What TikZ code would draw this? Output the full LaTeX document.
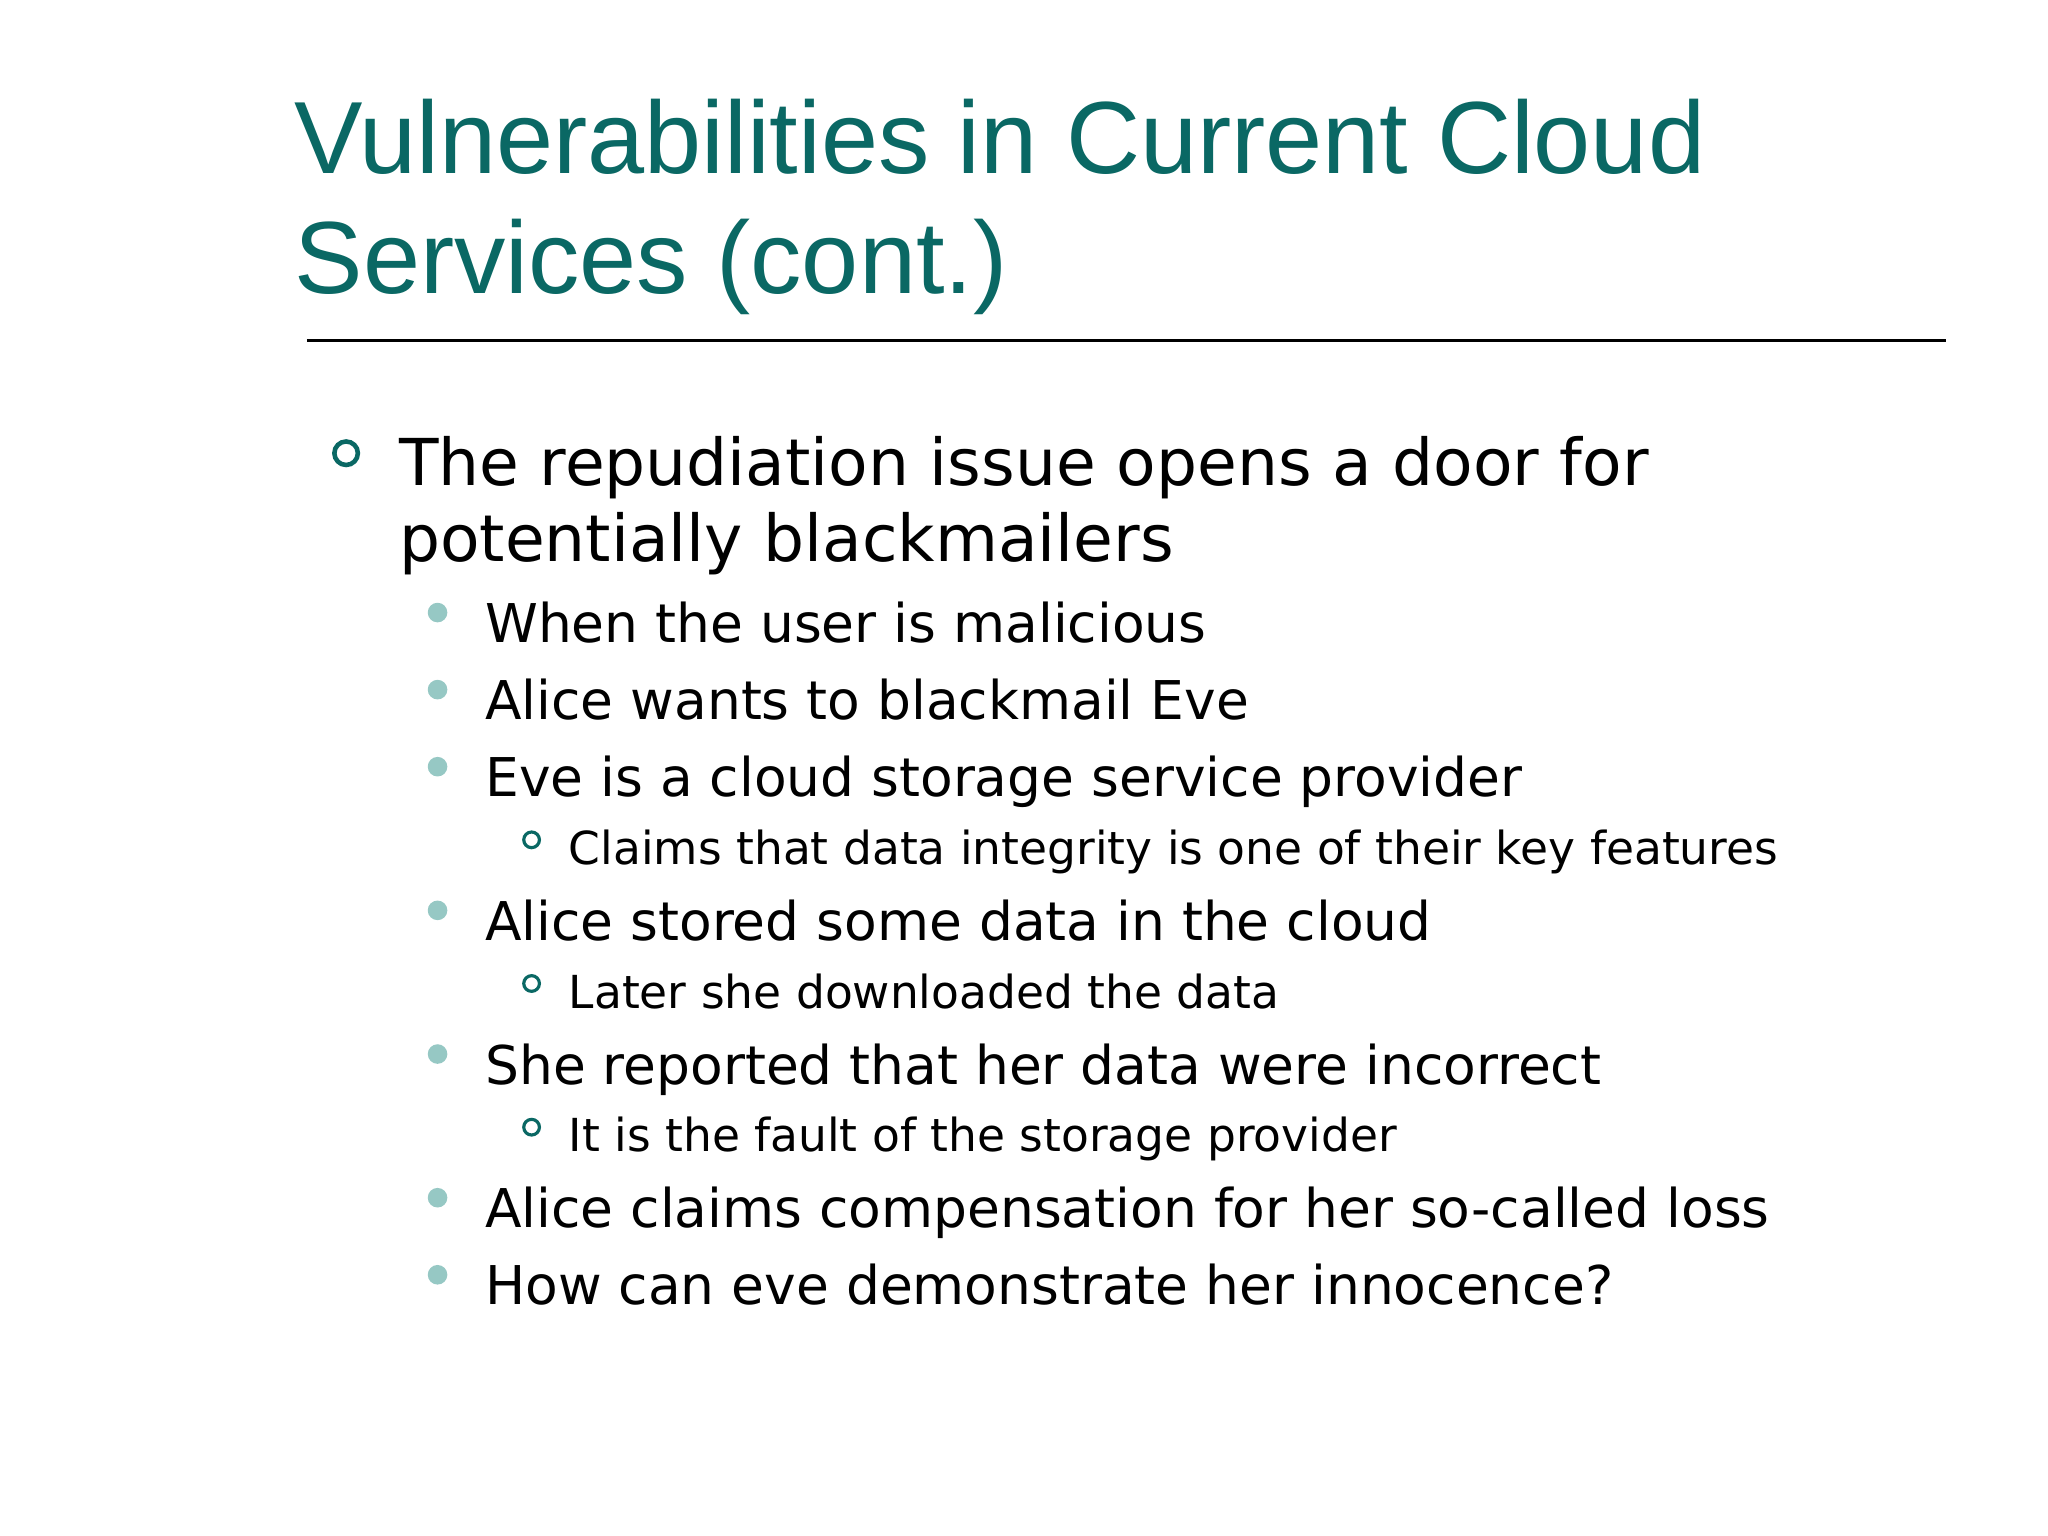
\documentclass[tikz,border=0pt]{standalone}
\usepackage{fontspec}
\setmainfont{DejaVu Sans}
\newfontfamily\titlefont{Liberation Sans}
\definecolor{titleteal}{RGB}{10,104,100}
\definecolor{dotteal}{RGB}{150,200,196}
\tikzset{
  titletext/.style={anchor=base west,inner sep=0pt,text=titleteal,font=\titlefont\fontsize{29.2}{29.2}\selectfont},
  onetext/.style={anchor=base west,inner sep=0pt,font=\fontsize{18.4}{18.4}\selectfont},
  twotext/.style={anchor=base west,inner sep=0pt,font=\fontsize{15.2}{15.2}\selectfont},
  threetext/.style={anchor=base west,inner sep=0pt,font=\fontsize{12.95}{12.95}\selectfont},
  onedot/.style={draw=titleteal,line width=1.3pt},
  twodot/.style={fill=dotteal},
  threedot/.style={draw=titleteal,line width=0.9pt}
}
\begin{document}
\begin{tikzpicture}[x=0.01306cm,y=-0.01306cm]
  \useasboundingbox[fill=white] (0,0) rectangle (1568,1176);
  % title
  \node[titletext] (t1) at (225,133) {Vulnerabilities in Current Cloud};
  \node[titletext] (t2) at (225,225) {Services (cont.)};
  \coordinate (ruleA) at (235,261);
  \coordinate (ruleB) at (1490,261);
  \draw[line width=0.9pt] (ruleA) -- (ruleB);
  % first level
  \draw[onedot] (265,347) circle (9);
  \node[onetext] (p1) at (305,372) {The repudiation issue opens a door for};
  \node[onetext] (p1b) at (305,430) {potentially blackmailers};
  % second and third level
  \foreach \y/\txt in {492/When the user is malicious,
                       551/Alice wants to blackmail Eve,
                       610/Eve is a cloud storage service provider,
                       720/Alice stored some data in the cloud,
                       830/She reported that her data were incorrect,
                       940/Alice claims compensation for her so-called loss,
                       999/How can eve demonstrate her innocence?}{
    \fill[twodot] (335,\y-23) circle (7.5);
    \node[twotext] (s\y) at (371,\y) {\txt};
  }
  \foreach \y/\txt in {662/Claims that data integrity is one of their key features,
                       772/Later she downloaded the data,
                       882/It is the fault of the storage provider}{
    \draw[threedot] (407,\y-19) circle (6);
    \node[threetext] (u\y) at (435,\y) {\txt};
  }
\end{tikzpicture}
\end{document}
